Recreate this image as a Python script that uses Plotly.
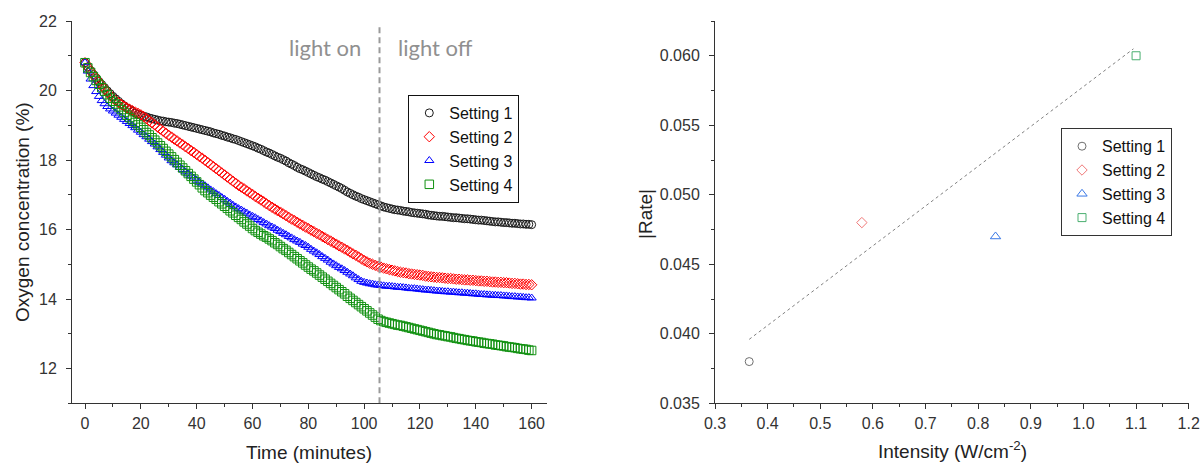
import plotly.graph_objects as go

# ---------------- data: left panel (oxygen vs time) ----------------
time_min = list(range(0, 161))

setting1_o2 = [
    20.80, 20.68, 20.57, 20.46, 20.36, 20.26, 20.17, 20.08, 19.99, 19.91,
    19.83, 19.76, 19.69, 19.62, 19.56, 19.50, 19.45, 19.40, 19.35, 19.31,
    19.29, 19.26, 19.24, 19.21, 19.19, 19.17, 19.15, 19.13, 19.12, 19.10,
    19.09, 19.08, 19.06, 19.05, 19.03, 19.01, 18.99, 18.97, 18.95, 18.93,
    18.91, 18.89, 18.87, 18.85, 18.83, 18.81, 18.78, 18.76, 18.74, 18.71,
    18.69, 18.66, 18.64, 18.61, 18.59, 18.56, 18.53, 18.50, 18.47, 18.44,
    18.41, 18.38, 18.34, 18.31, 18.27, 18.23, 18.20, 18.16, 18.12, 18.08,
    18.05, 18.01, 17.97, 17.92, 17.88, 17.84, 17.79, 17.75, 17.72, 17.68,
    17.64, 17.60, 17.56, 17.52, 17.49, 17.45, 17.42, 17.38, 17.34, 17.30,
    17.26, 17.22, 17.18, 17.13, 17.08, 17.04, 17.00, 16.96, 16.93, 16.89,
    16.86, 16.83, 16.80, 16.77, 16.74, 16.71, 16.68, 16.65, 16.63, 16.61,
    16.59, 16.57, 16.56, 16.55, 16.53, 16.52, 16.51, 16.49, 16.48, 16.47,
    16.46, 16.45, 16.44, 16.42, 16.41, 16.40, 16.39, 16.38, 16.38, 16.37,
    16.36, 16.35, 16.34, 16.34, 16.33, 16.32, 16.31, 16.31, 16.30, 16.29,
    16.28, 16.27, 16.27, 16.26, 16.25, 16.24, 16.23, 16.22, 16.22, 16.21,
    16.20, 16.20, 16.19, 16.18, 16.18, 16.17, 16.16, 16.16, 16.15, 16.15,
    16.14,
]

setting2_o2 = [
    20.80, 20.67, 20.56, 20.45, 20.34, 20.24, 20.14, 20.04, 19.95, 19.86,
    19.78, 19.71, 19.65, 19.60, 19.55, 19.50, 19.46, 19.42, 19.38, 19.34,
    19.30, 19.25, 19.19, 19.13, 19.07, 19.01, 18.95, 18.89, 18.83, 18.77,
    18.71, 18.66, 18.60, 18.55, 18.49, 18.44, 18.38, 18.33, 18.27, 18.22,
    18.16, 18.10, 18.05, 17.99, 17.93, 17.87, 17.81, 17.75, 17.69, 17.63,
    17.57, 17.51, 17.45, 17.39, 17.33, 17.27, 17.22, 17.17, 17.11, 17.06,
    17.01, 16.95, 16.90, 16.85, 16.80, 16.74, 16.69, 16.64, 16.59, 16.54,
    16.50, 16.45, 16.40, 16.35, 16.30, 16.26, 16.21, 16.16, 16.12, 16.07,
    16.03, 15.98, 15.94, 15.89, 15.85, 15.80, 15.76, 15.71, 15.67, 15.62,
    15.58, 15.53, 15.49, 15.44, 15.40, 15.35, 15.30, 15.26, 15.21, 15.16,
    15.11, 15.07, 15.03, 15.00, 14.97, 14.94, 14.92, 14.89, 14.87, 14.85,
    14.83, 14.81, 14.79, 14.77, 14.76, 14.75, 14.73, 14.72, 14.71, 14.70,
    14.69, 14.68, 14.66, 14.65, 14.64, 14.63, 14.62, 14.62, 14.61, 14.60,
    14.59, 14.59, 14.58, 14.57, 14.57, 14.56, 14.55, 14.55, 14.54, 14.54,
    14.53, 14.52, 14.52, 14.51, 14.51, 14.50, 14.49, 14.49, 14.48, 14.48,
    14.47, 14.47, 14.46, 14.45, 14.45, 14.44, 14.43, 14.43, 14.42, 14.42,
    14.41,
]

setting3_o2 = [
    20.80, 20.56, 20.33, 20.14, 19.97, 19.83, 19.71, 19.62, 19.54, 19.47,
    19.41, 19.35, 19.29, 19.23, 19.17, 19.11, 19.05, 18.99, 18.93, 18.86,
    18.80, 18.73, 18.67, 18.60, 18.53, 18.46, 18.38, 18.30, 18.22, 18.14,
    18.06, 17.98, 17.92, 17.86, 17.79, 17.73, 17.66, 17.60, 17.54, 17.48,
    17.42, 17.36, 17.31, 17.26, 17.20, 17.14, 17.09, 17.03, 16.98, 16.92,
    16.87, 16.81, 16.76, 16.70, 16.65, 16.60, 16.56, 16.51, 16.47, 16.42,
    16.38, 16.34, 16.29, 16.25, 16.20, 16.16, 16.11, 16.07, 16.03, 15.98,
    15.94, 15.89, 15.85, 15.80, 15.76, 15.71, 15.67, 15.63, 15.58, 15.54,
    15.49, 15.43, 15.38, 15.33, 15.28, 15.22, 15.17, 15.12, 15.06, 15.01,
    14.96, 14.91, 14.87, 14.82, 14.77, 14.72, 14.67, 14.61, 14.56, 14.51,
    14.48, 14.46, 14.44, 14.43, 14.41, 14.40, 14.39, 14.38, 14.37, 14.37,
    14.36, 14.35, 14.34, 14.34, 14.33, 14.32, 14.31, 14.30, 14.30, 14.29,
    14.28, 14.27, 14.26, 14.26, 14.25, 14.24, 14.23, 14.23, 14.22, 14.21,
    14.21, 14.20, 14.20, 14.19, 14.18, 14.18, 14.17, 14.17, 14.16, 14.15,
    14.15, 14.14, 14.13, 14.13, 14.12, 14.12, 14.11, 14.11, 14.10, 14.10,
    14.09, 14.09, 14.08, 14.07, 14.07, 14.06, 14.06, 14.05, 14.04, 14.04,
    14.03,
]

setting4_o2 = [
    20.80, 20.65, 20.52, 20.40, 20.29, 20.18, 20.08, 19.98, 19.88, 19.78,
    19.69, 19.61, 19.53, 19.45, 19.37, 19.29, 19.22, 19.15, 19.08, 19.01,
    18.94, 18.87, 18.79, 18.72, 18.64, 18.57, 18.49, 18.41, 18.33, 18.25,
    18.17, 18.09, 18.01, 17.93, 17.85, 17.77, 17.69, 17.61, 17.53, 17.45,
    17.37, 17.29, 17.20, 17.12, 17.06, 16.99, 16.93, 16.87, 16.80, 16.74,
    16.67, 16.61, 16.54, 16.48, 16.41, 16.35, 16.29, 16.22, 16.16, 16.10,
    16.03, 15.97, 15.92, 15.87, 15.82, 15.78, 15.73, 15.68, 15.62, 15.57,
    15.51, 15.45, 15.40, 15.34, 15.28, 15.22, 15.16, 15.10, 15.04, 14.98,
    14.92, 14.86, 14.81, 14.75, 14.69, 14.63, 14.57, 14.51, 14.45, 14.39,
    14.33, 14.27, 14.21, 14.15, 14.08, 14.02, 13.96, 13.90, 13.84, 13.78,
    13.72, 13.66, 13.60, 13.54, 13.48, 13.42, 13.38, 13.35, 13.33, 13.31,
    13.29, 13.27, 13.25, 13.24, 13.22, 13.20, 13.18, 13.16, 13.14, 13.12,
    13.10, 13.08, 13.06, 13.04, 13.02, 13.00, 12.98, 12.97, 12.95, 12.94,
    12.92, 12.91, 12.89, 12.87, 12.86, 12.84, 12.83, 12.81, 12.80, 12.79,
    12.77, 12.76, 12.75, 12.73, 12.72, 12.71, 12.70, 12.68, 12.67, 12.66,
    12.65, 12.63, 12.62, 12.61, 12.60, 12.58, 12.57, 12.56, 12.55, 12.53,
    12.52,
]

light_switch_time = 105.5
light_line_o2 = [11.0, 21.9]

# ---------------- data: right panel (rate vs intensity) ----------------
setting_names = ["Setting 1", "Setting 2", "Setting 3", "Setting 4"]
intensity = [0.365, 0.579, 0.833, 1.10]
rate_abs = [0.0380, 0.0480, 0.0470, 0.0600]
trend_x = [0.365, 1.095]
trend_y = [0.0396, 0.0605]

# ---------------- styles ----------------
FONT = "Arial, 'Liberation Sans', sans-serif"
AX = "#333333"
left_colors = ["#1a1a1a", "#ff0000", "#0000ff", "#109010"]
right_colors = ["#707070", "#f07878", "#3a78e6", "#4aaf70"]
symbols = ["circle-open", "diamond-open", "triangle-up-open", "square-open"]
left_sizes = [8, 8, 8, 8.5]
right_sizes = [8, 8, 9, 8]

fig = go.Figure()

left_series = [setting1_o2, setting2_o2, setting3_o2, setting4_o2]
for name, ys, col, sym, sz in zip(setting_names, left_series, left_colors, symbols, left_sizes):
    fig.add_trace(go.Scatter(
        x=time_min, y=ys, mode="markers", name=name,
        marker=dict(symbol=sym, size=sz, color=col, line=dict(width=1, color=col)),
        xaxis="x", yaxis="y", legend="legend",
    ))

fig.add_trace(go.Scatter(
    x=[light_switch_time, light_switch_time], y=light_line_o2, mode="lines",
    line=dict(color="#9a9a9a", width=2, dash="6px,4px"),
    showlegend=False, hoverinfo="skip", xaxis="x", yaxis="y",
))

fig.add_trace(go.Scatter(
    x=trend_x, y=trend_y, mode="lines",
    line=dict(color="#808080", width=1, dash="dot"),
    showlegend=False, hoverinfo="skip", xaxis="x2", yaxis="y2",
))

for i, name in enumerate(setting_names):
    fig.add_trace(go.Scatter(
        x=[intensity[i]], y=[rate_abs[i]], mode="markers", name=name,
        marker=dict(symbol=symbols[i], size=right_sizes[i], color=right_colors[i],
                    line=dict(width=1, color=right_colors[i])),
        xaxis="x2", yaxis="y2", legend="legend2",
    ))

W, H = 1202, 463
def px_x(p):
    return p / W
def px_y(p):
    return 1 - p / H

axis_common = dict(
    showgrid=False, zeroline=False, showline=True, linecolor=AX, linewidth=1,
    ticks="outside", ticklen=5, tickwidth=1, tickcolor=AX,
    tickfont=dict(family=FONT, size=16, color="#333333"),
    mirror=False, automargin=False,
)

fig.update_layout(
    width=W, height=H,
    margin=dict(l=0, r=0, t=0, b=0, autoexpand=False),
    paper_bgcolor="white", plot_bgcolor="white",
    font=dict(family=FONT, color="#222222"),
    xaxis=dict(domain=[px_x(72), px_x(546.7)], range=[-4.66, 165.4],
               tick0=0, dtick=20,
               minor=dict(dtick=10, ticks="outside", ticklen=3, tickcolor=AX),
               anchor="y", **axis_common),
    yaxis=dict(domain=[px_y(403.3), px_y(21)], range=[11, 22],
               tick0=12, dtick=2, ticklabelstandoff=6,
               minor=dict(dtick=1, ticks="outside", ticklen=3, tickcolor=AX),
               anchor="x", **axis_common),
    xaxis2=dict(domain=[px_x(715), px_x(1188.7)], range=[0.3, 1.2],
                tick0=0.3, dtick=0.1, tickformat=".1f",
                minor=dict(dtick=0.05, ticks="outside", ticklen=3, tickcolor=AX),
                anchor="y2", **axis_common),
    yaxis2=dict(domain=[px_y(403.3), px_y(21)], range=[0.035, 0.0625],
                tick0=0.035, dtick=0.005, tickformat=".3f", ticklabelstandoff=6,
                minor=dict(dtick=0.0025, ticks="outside", ticklen=3, tickcolor=AX),
                anchor="x2", **axis_common),
    legend=dict(x=px_x(408.3), y=px_y(95), xanchor="left", yanchor="top",
                bgcolor="white", bordercolor="#111111", borderwidth=1,
                font=dict(family=FONT, size=16, color="#111111"),
                tracegroupgap=0, itemwidth=30),
    legend2=dict(x=px_x(1061), y=px_y(128.3), xanchor="left", yanchor="top",
                 bgcolor="white", bordercolor="#333333", borderwidth=1,
                 font=dict(family=FONT, size=16, color="#111111"),
                 tracegroupgap=0, itemwidth=30),
    showlegend=True,
)

ann = [
    dict(text="Oxygen concentration (%)", x=px_x(22), y=px_y(212), textangle=-90,
         font=dict(size=19)),
    dict(text="Time (minutes)", x=px_x(309), y=px_y(452), font=dict(size=19)),
    dict(text="|Rate|", x=px_x(645), y=px_y(214), textangle=-90, font=dict(size=19)),
    dict(text="Intensity (W/cm<sup>-2</sup>)", x=px_x(952), y=px_y(450), font=dict(size=19)),
    dict(text="light on", x=px_x(325), y=px_y(48),
         font=dict(size=22, family="Lato, 'Open Sans', sans-serif", color="#909090")),
    dict(text="light off", x=px_x(435), y=px_y(48),
         font=dict(size=22, family="Lato, 'Open Sans', sans-serif", color="#909090")),
]
for a in ann:
    fig.add_annotation(xref="paper", yref="paper", showarrow=False,
                       xanchor="center", yanchor="middle", **a)

fig.write_html("out.html")
